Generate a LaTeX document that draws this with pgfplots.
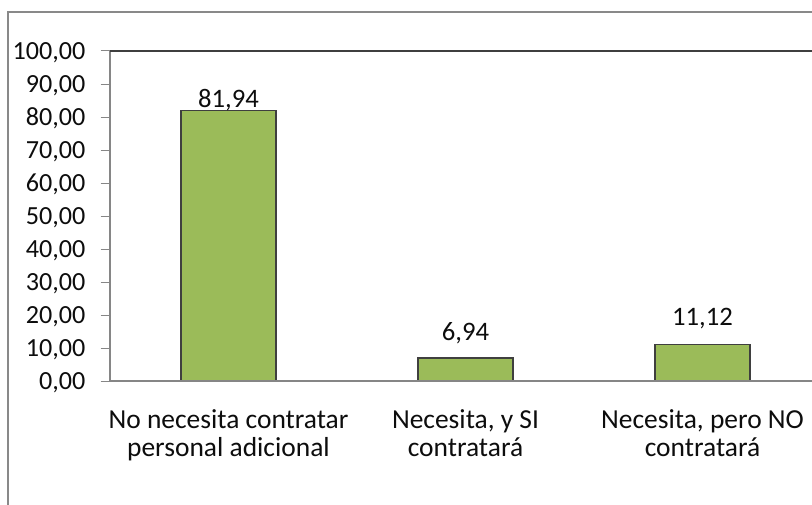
\documentclass[border=0pt]{standalone}
\usepackage{pgfplots}
\pgfplotsset{compat=1.18}
\usepackage{fontspec}
\setmainfont{Carlito}
\definecolor{axgray}{HTML}{868686}
\definecolor{framegray}{HTML}{898989}
\definecolor{bargreen}{HTML}{9BBB59}
\definecolor{baredge}{HTML}{3F3F3F}
\definecolor{txt}{HTML}{0D0D0D}
\begin{document}
\begin{tikzpicture}[x=0.75pt,y=0.75pt]
\useasboundingbox (0,0) rectangle (812,504);
\clip (0,0) rectangle (812,504);
\fill[white] (0,0) rectangle (812,504);
\draw[framegray, line width=1.8pt] (8,-20) -- (8,492) -- (900,492);
\begin{axis}[
  at={(82.5pt,92.25pt)}, anchor=south west,
  scale only axis, width=533.25pt, height=247.5pt,
  xmin=-0.5, xmax=2.5, ymin=0, ymax=100,
  ytick distance=10,
  xtick={0,1,2},
  xticklabels={{No necesita contratar\\personal adicional},{Necesita, y SI\\contratará},{Necesita, pero NO\\contratará}},
  x tick style={draw=none},
  extra x ticks={-0.5,0.5,1.5,2.5},
  extra x tick labels={},
  extra x tick style={tick style={axgray, line width=0.75pt}, major tick length=6pt},
  tick align=outside,
  y tick style={axgray, line width=0.75pt},
  major tick length=7pt,
  axis line style={draw=none},
  /pgf/number format/assume math mode=true,
  yticklabel style={/pgf/number format/.cd, fixed, fixed zerofill, precision=2, use comma, /tikz/.cd, font=\fontsize{19.6}{22}\selectfont, text=txt, inner sep=0pt, anchor=east, xshift=-11.25pt, yshift=-1pt},
  xticklabel style={font=\fontsize{20.6}{21}\selectfont, text=txt, align=center, inner sep=0pt, anchor=north, yshift=-14.5pt},
  ybar, bar width=0.4,
  visualization depends on={\thisrow{off}\as\myoff},
  nodes near coords,
  every node near coord/.append style={/pgf/number format/.cd, fixed, fixed zerofill, precision=2, use comma, /tikz/.cd, font=\fontsize{20}{22}\selectfont, text=txt, anchor=base, inner sep=0pt, yshift=\myoff pt},
  clip=false,
]
\addplot[fill=bargreen, draw=baredge, line width=1.1pt] table[x=x, y=y] {
x y off
0 81.94 2.6
1 6.94 13.5
2 11.12 14
};
\draw[axgray, line width=1.2pt] (rel axis cs:0,1) -- (rel axis cs:0,0) -- (rel axis cs:1,0);
\draw[baredge, line width=1.2pt] (rel axis cs:0,1) -- (rel axis cs:1,1);
\end{axis}
\end{tikzpicture}
\end{document}
